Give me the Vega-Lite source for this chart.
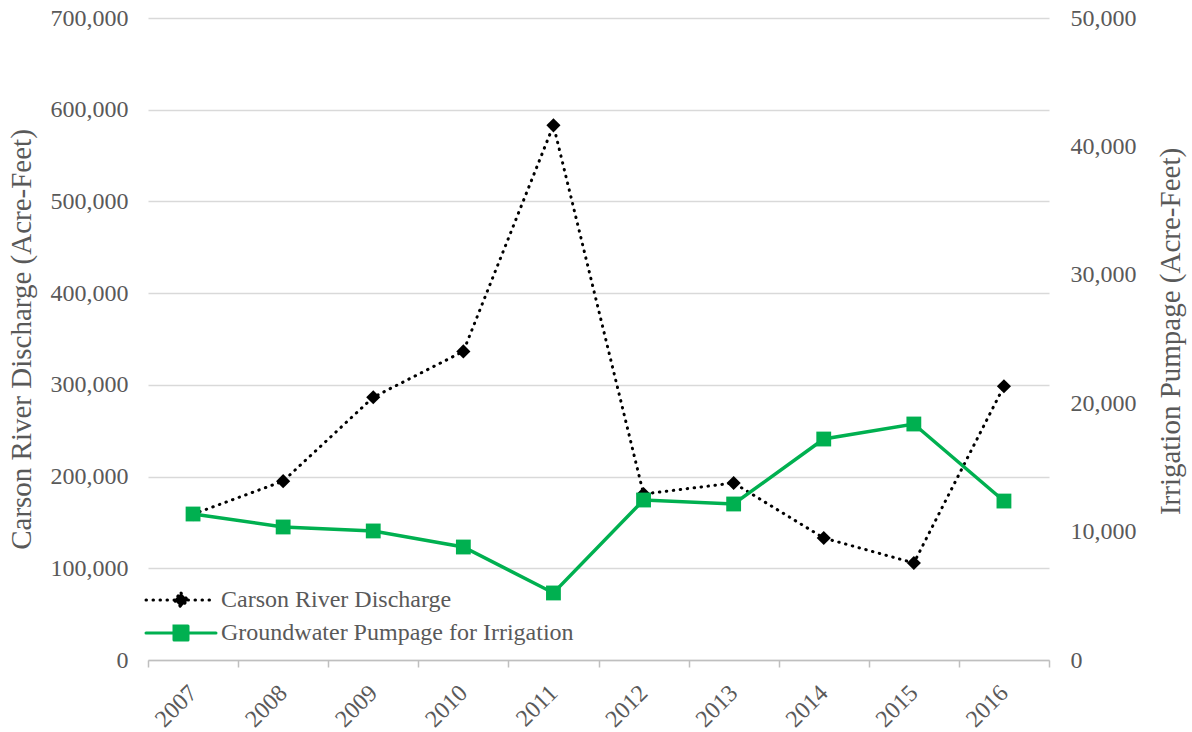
{
  "$schema": "https://vega.github.io/schema/vega-lite/v6.json",
  "width": 901,
  "height": 642,
  "autosize": "none",
  "padding": {"left": 148, "top": 18, "right": 143, "bottom": 72},
  "background": "white",
  "config": {
    "view": {"stroke": null},
    "font": "Liberation Serif",
    "axis": {"labelFont": "Liberation Serif", "titleFont": "Liberation Serif", "labelColor": "#595959", "titleColor": "#595959", "labelFontSize": 24, "titleFontSize": 29, "titleFontWeight": "normal"}
  },
  "data": {
    "values": [
      {"year": "2007", "series": "Carson River Discharge", "value": 159000},
      {"year": "2008", "series": "Carson River Discharge", "value": 195000},
      {"year": "2009", "series": "Carson River Discharge", "value": 286500},
      {"year": "2010", "series": "Carson River Discharge", "value": 336500},
      {"year": "2011", "series": "Carson River Discharge", "value": 583000},
      {"year": "2012", "series": "Carson River Discharge", "value": 181000},
      {"year": "2013", "series": "Carson River Discharge", "value": 193000},
      {"year": "2014", "series": "Carson River Discharge", "value": 133000},
      {"year": "2015", "series": "Carson River Discharge", "value": 105800},
      {"year": "2016", "series": "Carson River Discharge", "value": 298500},
      {"year": "2007", "series": "Groundwater Pumpage for Irrigation", "value": 11370},
      {"year": "2008", "series": "Groundwater Pumpage for Irrigation", "value": 10360},
      {"year": "2009", "series": "Groundwater Pumpage for Irrigation", "value": 10050},
      {"year": "2010", "series": "Groundwater Pumpage for Irrigation", "value": 8800},
      {"year": "2011", "series": "Groundwater Pumpage for Irrigation", "value": 5220},
      {"year": "2012", "series": "Groundwater Pumpage for Irrigation", "value": 12460},
      {"year": "2013", "series": "Groundwater Pumpage for Irrigation", "value": 12150},
      {"year": "2014", "series": "Groundwater Pumpage for Irrigation", "value": 17210},
      {"year": "2015", "series": "Groundwater Pumpage for Irrigation", "value": 18380},
      {"year": "2016", "series": "Groundwater Pumpage for Irrigation", "value": 12380}
    ]
  },
  "encoding": {
    "x": {
      "field": "year", "type": "ordinal", "bandPosition": 0.5,
      "scale": {"type": "band", "paddingInner": 0, "paddingOuter": 0},
      "axis": {"title": null, "labelAngle": -45, "labelAlign": "right", "labelBaseline": "middle", "labelFontSize": 24, "domainColor": "#bfbfbf", "domainWidth": 1.5, "tickColor": "#bfbfbf", "tickWidth": 1.5, "tickSize": 7, "tickBand": "extent", "grid": false, "labelPadding": 22}
    }
  },
  "layer": [
    {
      "transform": [{"filter": "datum.series === 'Carson River Discharge'"}],
      "encoding": {
        "y": {
          "field": "value", "type": "quantitative",
          "scale": {"domain": [0, 700000]},
          "axis": {"title": "Carson River Discharge (Acre-Feet)", "format": ",.0f", "values": [0, 100000, 200000, 300000, 400000, 500000, 600000, 700000], "domain": false, "ticks": false, "grid": true, "gridColor": "#d9d9d9", "gridWidth": 1.3, "labelPadding": 20, "titlePadding": 14}
        }
      },
      "layer": [
        {
          "mark": {"type": "line", "strokeWidth": 3, "strokeDash": [0.5, 6.5], "strokeCap": "round"},
          "encoding": {
            "color": {
              "field": "series", "type": "nominal",
              "scale": {"domain": ["Carson River Discharge", "Groundwater Pumpage for Irrigation"], "range": ["#000000", "#00B050"]},
              "legend": {
                "title": null, "orient": "none", "legendX": 21, "legendY": 570,
                "labelFont": "Liberation Serif", "labelFontSize": 24, "labelColor": "#595959", "labelLimit": 600,
                "rowPadding": 7, "labelOffset": 28, "symbolSize": 196, "symbolStrokeWidth": 3,
                "encode": {
                  "symbols": {
                    "update": {
                      "shape": {"signal": "datum.value === 'Carson River Discharge' ? 'M-5,0L5,0M0,-1L1,0L0,1L-1,0Z' : 'M-5,0L5,0M-1,-1L1,-1L1,1L-1,1Z'"},
                      "size": {"value": 196},
                      "fill": {"signal": "datum.value === 'Carson River Discharge' ? '#000000' : '#00B050'"},
                      "stroke": {"signal": "datum.value === 'Carson River Discharge' ? '#000000' : '#00B050'"},
                      "strokeWidth": {"value": 3},
                      "strokeDash": {"signal": "datum.value === 'Carson River Discharge' ? [0.5, 6.5] : [1, 0]"},
                      "strokeCap": {"value": "round"},
                      "opacity": {"value": 1},
                      "fillOpacity": {"value": 1}
                    }
                  }
                }
              }
            }
          }
        },
        {
          "mark": {"type": "point", "shape": "diamond", "filled": true, "size": 200, "color": "#000000", "opacity": 1}
        }
      ]
    },
    {
      "transform": [{"filter": "datum.series === 'Groundwater Pumpage for Irrigation'"}],
      "encoding": {
        "y": {
          "field": "value", "type": "quantitative",
          "scale": {"domain": [0, 50000]},
          "axis": {"orient": "right", "title": "Irrigation Pumpage (Acre-Feet)", "titleAngle": 270, "titleBaseline": "top", "titleY": 313, "format": ",.0f", "values": [0, 10000, 20000, 30000, 40000, 50000], "domain": false, "ticks": false, "grid": false, "labelPadding": 21, "titlePadding": 20}
        }
      },
      "layer": [
        {
          "mark": {"type": "line", "strokeWidth": 3.5},
          "encoding": {"color": {"field": "series", "type": "nominal"}}
        },
        {
          "mark": {"type": "point", "shape": "square", "filled": true, "size": 220, "color": "#00B050", "opacity": 1}
        }
      ]
    }
  ],
  "resolve": {"scale": {"y": "independent"}}
}
